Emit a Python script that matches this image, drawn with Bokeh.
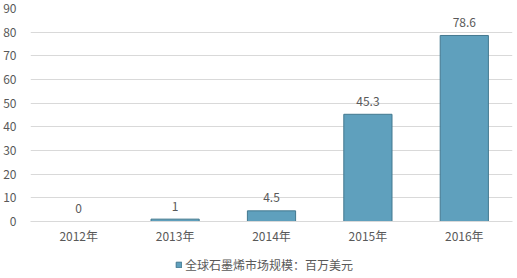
from bokeh.plotting import figure
from bokeh.layouts import column
from bokeh.models import ColumnDataSource, LabelSet, Legend, LegendItem, Range1d, FixedTicker
from bokeh.core.properties import value
from bokeh.embed import file_html
from bokeh.resources import INLINE

years = ["2012年", "2013年", "2014年", "2015年", "2016年"]
values = [0, 1, 4.5, 45.3, 78.6]
value_text = ["0", "1", "4.5", "45.3", "78.6"]
series_name = "全球石墨烯市场规模：百万美元"
y_ticks = [0, 10, 20, 30, 40, 50, 60, 70, 80, 90]

FONT = "Noto Sans CJK SC"
TXT = "#595959"
BAR_FILL = "#5fa0bd"
BAR_LINE = "#43788f"

src = ColumnDataSource(dict(x=years, top=values, lbl=value_text))

p = figure(width=517, height=250, x_range=years, y_range=Range1d(0, 90),
           output_backend="svg", toolbar_location=None,
           min_border_left=30, min_border_right=5, min_border_top=8, min_border_bottom=29)
p.outline_line_color = None
p.background_fill_color = "white"

p.vbar(x="x", top="top", width=0.5, source=src,
       fill_color=BAR_FILL, line_color=BAR_LINE, line_width=1)

p.add_layout(LabelSet(x="x", y="top", text="lbl", source=src, y_offset=13,
                      text_align="center", text_baseline="middle",
                      text_font_size=value("12px"), text_color=value(TXT),
                      text_font=value(FONT)))

p.yaxis.ticker = FixedTicker(ticks=y_ticks)
p.yaxis.axis_line_color = None
p.yaxis.major_tick_line_color = None
p.yaxis.minor_tick_line_color = None
p.yaxis.major_label_standoff = 8
p.yaxis.major_label_text_font = FONT
p.yaxis.major_label_text_font_size = "12px"
p.yaxis.major_label_text_color = TXT

p.xaxis.axis_line_color = "#d9d9d9"
p.xaxis.major_tick_line_color = None
p.xaxis.minor_tick_line_color = None
p.xaxis.major_tick_out = 0
p.xaxis.major_tick_in = 0
p.xaxis.major_label_standoff = 5
p.xaxis.major_label_text_font = FONT
p.xaxis.major_label_text_font_size = "12px"
p.xaxis.major_label_text_color = TXT

p.xgrid.grid_line_color = None
p.ygrid.grid_line_color = "#d9d9d9"
p.ygrid.grid_line_width = 1

# legend strip
p2 = figure(width=517, height=28, x_range=years, y_range=Range1d(0, 90),
            output_backend="svg", toolbar_location=None,
            min_border_left=0, min_border_right=0, min_border_top=0, min_border_bottom=0)
p2.axis.visible = False
p2.grid.grid_line_color = None
p2.outline_line_color = None
r2 = p2.vbar(x="x", top="top", width=0.5, source=src,
             fill_color=BAR_FILL, line_color=BAR_LINE, line_width=1)
r2.visible = False

legend = Legend(items=[LegendItem(label=series_name, renderers=[r2])],
                orientation="horizontal", location=(145, 5),
                label_text_font=FONT, label_text_font_size="12px",
                label_text_color=TXT, glyph_width=7, glyph_height=7,
                label_standoff=3, border_line_color=None, padding=2, margin=0,
                background_fill_alpha=0, inactive_fill_alpha=0)
p2.add_layout(legend)

layout = column(p, p2, spacing=0)
open("out.html", "w").write(file_html(layout, INLINE))
